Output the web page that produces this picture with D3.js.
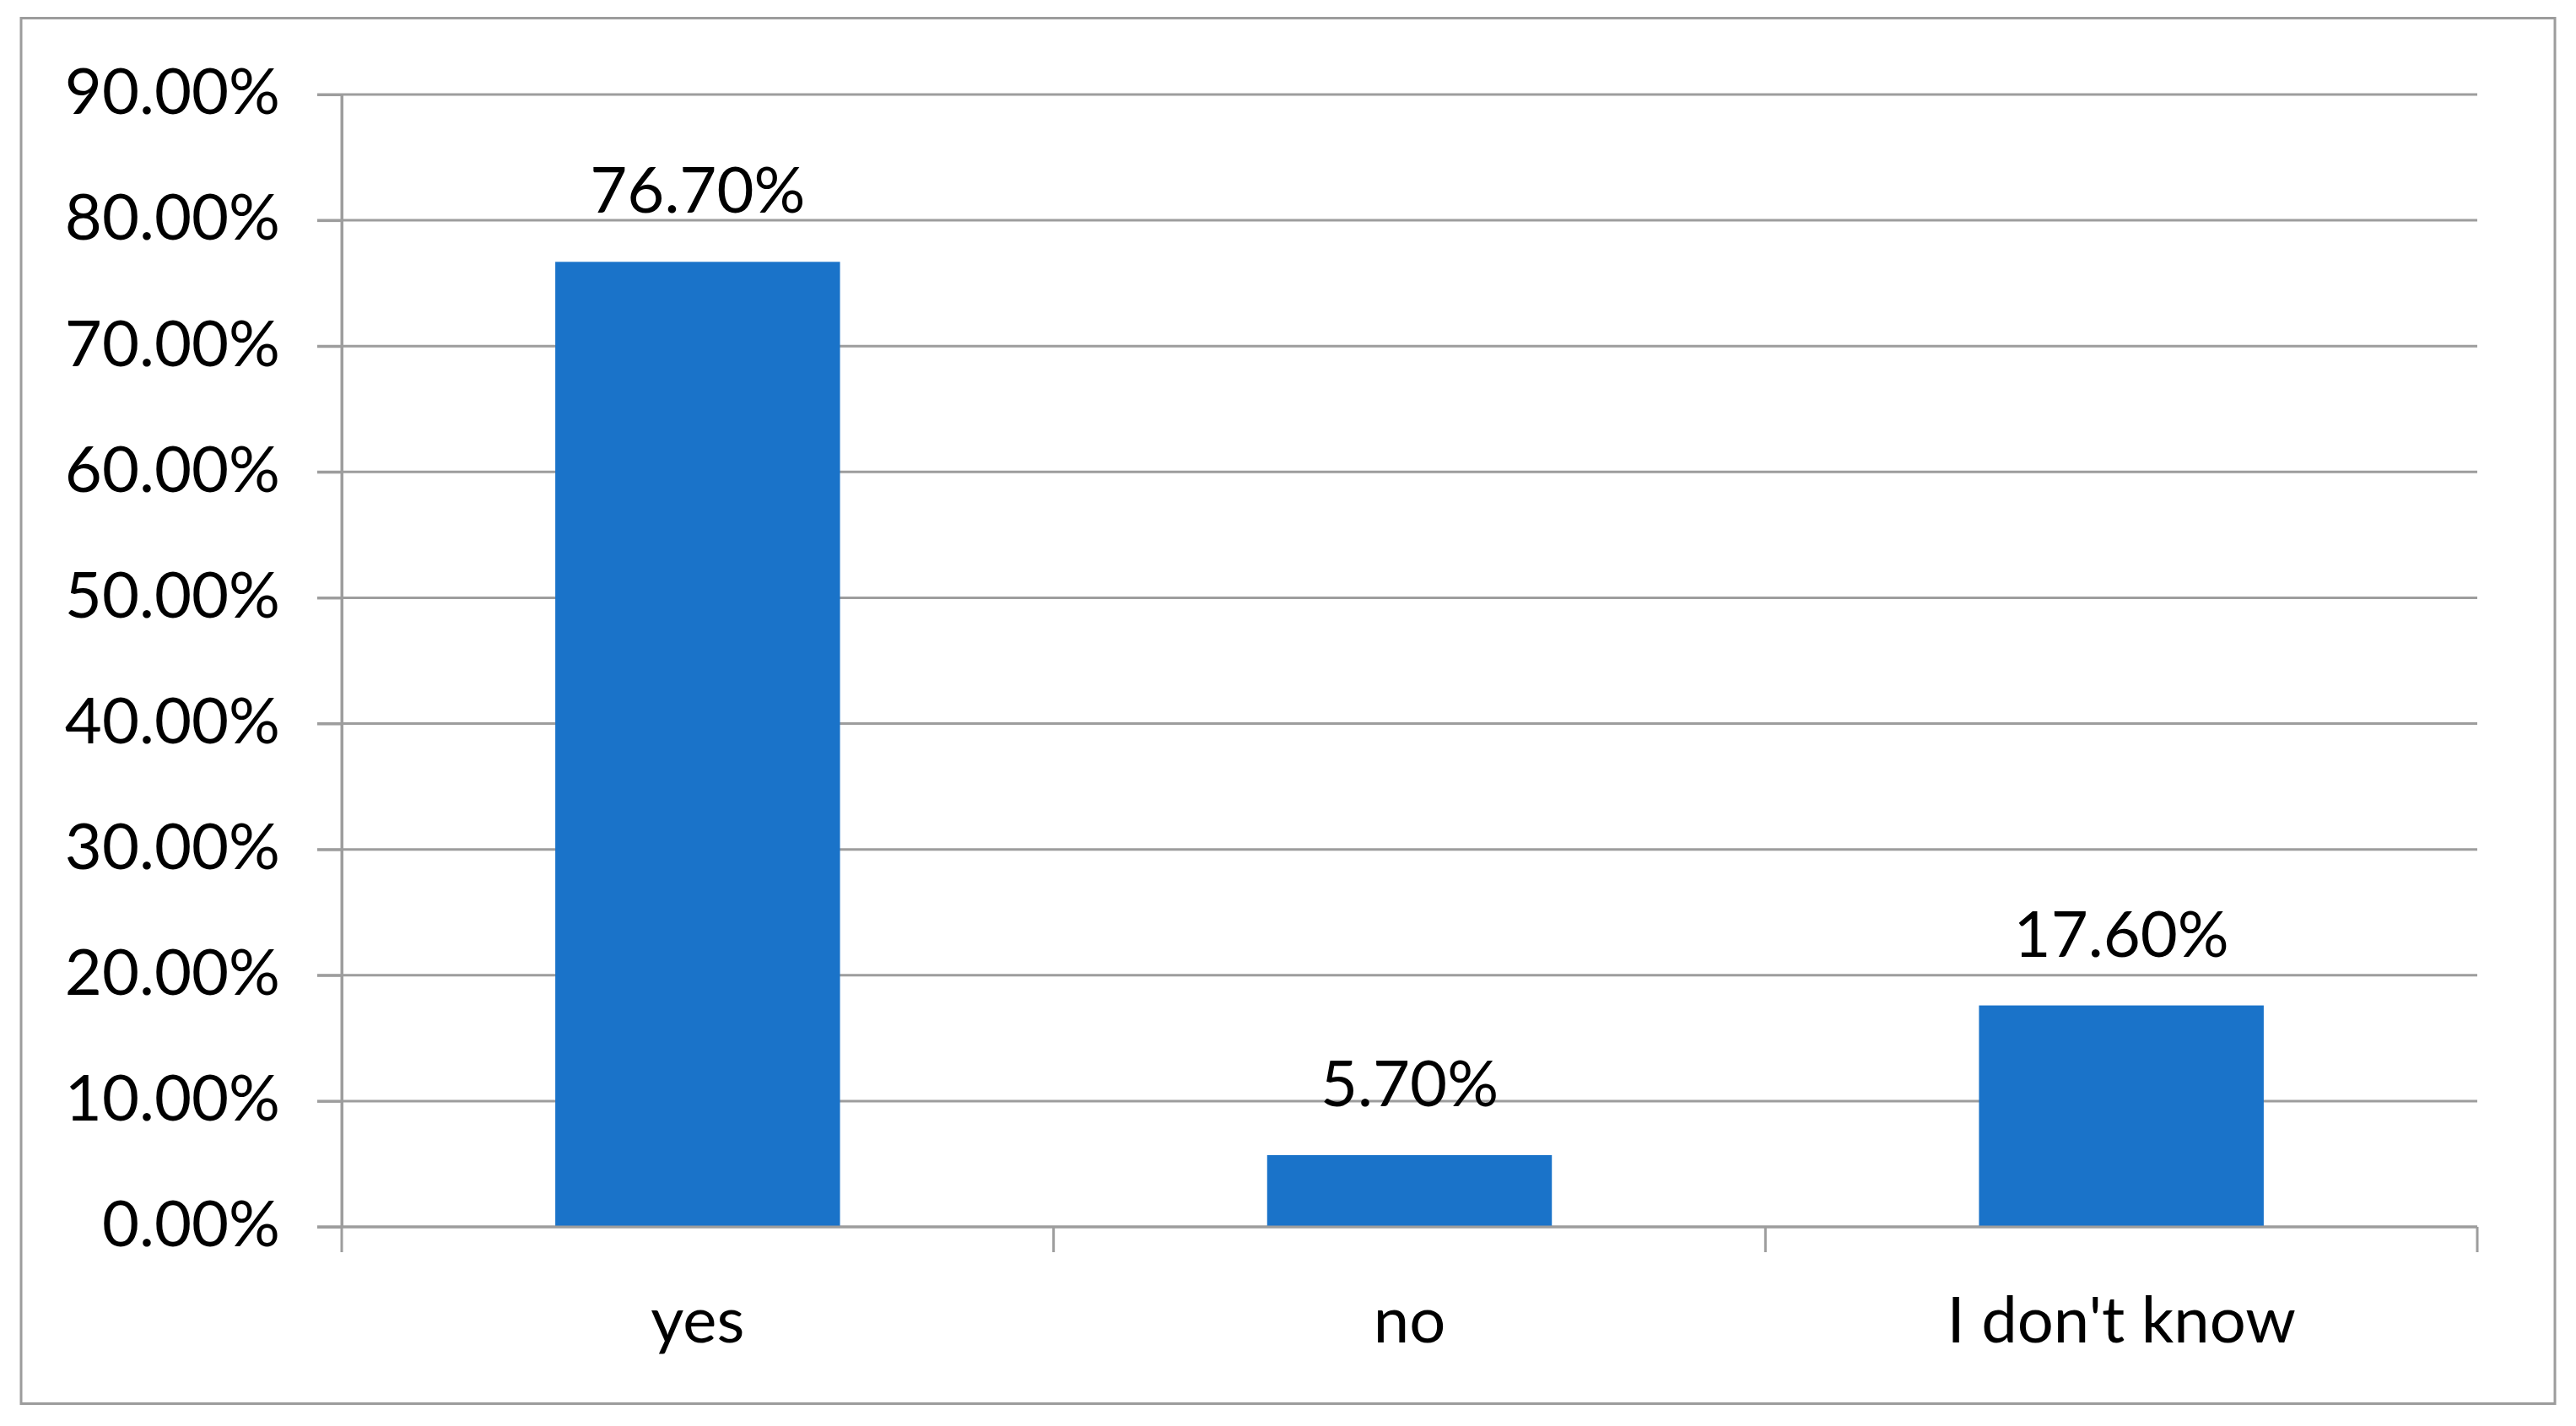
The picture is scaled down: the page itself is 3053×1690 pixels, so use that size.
<!DOCTYPE html>
<html>
<head>
<meta charset="utf-8">
<script src="https://cdn.jsdelivr.net/npm/d3@7"></script>
<style>
  html, body { margin: 0; padding: 0; background: #fff; }
  svg { display: block; }
  text { font-family: Lato, "Open Sans", sans-serif; fill: #000; }
</style>
</head>
<body>
<svg id="chart" width="3053" height="1690"></svg>
<script>
const categories = ["yes", "no", "I don't know"];
const values = [76.7, 5.7, 17.6];
const yTicks = [0, 10, 20, 30, 40, 50, 60, 70, 80, 90];
const valueLabels = ["76.70%", "5.70%", "17.60%"];

const W = 3053, H = 1690;
const plot = { left: 405, right: 2936, top: 112, bottom: 1454 };
const gridColor = "#9d9d9d";
const barColor = "#1a73c9";
const fontSize = 76;

const svg = d3.select("#chart");
svg.append("rect").attr("width", W).attr("height", H).attr("fill", "#fff");

// outer border
svg.append("rect")
  .attr("x", 25).attr("y", 21.5).attr("width", 3003).attr("height", 1642)
  .attr("fill", "none").attr("stroke", "#9c9c9c").attr("stroke-width", 3);

const y = d3.scaleLinear().domain([0, 90]).range([plot.bottom, plot.top]);
const x = d3.scaleBand().domain(categories).range([plot.left, plot.right])
  .paddingInner(0.6).paddingOuter(0.3);

// gridlines (including outward tick stubs)
svg.append("g").selectAll("line").data(yTicks).join("line")
  .attr("x1", plot.left - 29).attr("x2", plot.right)
  .attr("y1", d => y(d)).attr("y2", d => y(d))
  .attr("stroke", gridColor).attr("stroke-width", 3);

// y axis labels via d3 axis
const yAxis = d3.axisLeft(y).tickValues(yTicks).tickSize(29).tickSizeOuter(0)
  .tickPadding(44).tickFormat(d => d.toFixed(2) + "%");
const gy = svg.append("g").attr("transform", `translate(${plot.left},0)`).call(yAxis);
gy.select(".domain").attr("stroke", gridColor).attr("stroke-width", 3);
gy.selectAll(".tick line").attr("stroke", gridColor).attr("stroke-width", 3);
gy.selectAll(".tick text").attr("font-size", fontSize).attr("font-family", "Lato, sans-serif")
  .attr("fill", "#000").attr("dy", "0.30em");

// bars
svg.append("g").selectAll("rect").data(values).join("rect")
  .attr("x", (d, i) => x(categories[i]))
  .attr("width", x.bandwidth())
  .attr("y", d => y(d))
  .attr("height", d => y(0) - y(d))
  .attr("fill", barColor);

// x axis line on top of bars
svg.append("line")
  .attr("x1", plot.left - 29).attr("x2", plot.right)
  .attr("y1", y(0)).attr("y2", y(0))
  .attr("stroke", gridColor).attr("stroke-width", 3);

// category boundary ticks
const bounds = d3.range(categories.length + 1).map(i => plot.left + i * x.step());
svg.append("g").selectAll("line").data(bounds).join("line")
  .attr("x1", d => d).attr("x2", d => d)
  .attr("y1", (d, i) => (i === 0 ? plot.top : y(0)))
  .attr("y2", y(0) + 30)
  .attr("stroke", gridColor).attr("stroke-width", 3);

// category labels
const xAxis = d3.axisBottom(x).tickSize(0).tickPadding(0);
const gx = svg.append("g").attr("transform", `translate(0,${y(0)})`).call(xAxis);
gx.select(".domain").remove();
gx.selectAll(".tick text").attr("font-size", fontSize).attr("font-family", "Lato, sans-serif")
  .attr("fill", "#000").attr("dy", null).attr("y", 137);

// value labels
svg.append("g").selectAll("text").data(values).join("text")
  .attr("x", (d, i) => x(categories[i]) + x.bandwidth() / 2)
  .attr("y", d => y(d) - 58)
  .attr("text-anchor", "middle")
  .attr("font-size", fontSize)
  .text((d, i) => valueLabels[i]);
</script>
</body>
</html>
